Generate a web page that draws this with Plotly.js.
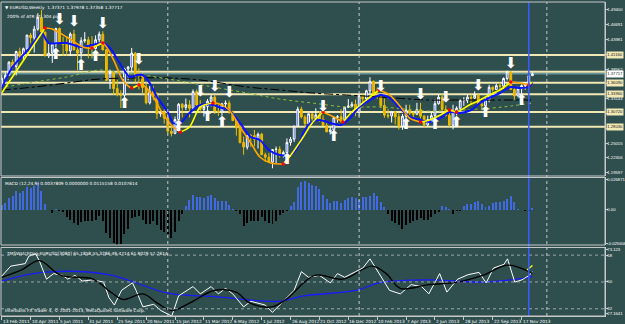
<!DOCTYPE html>
<html><head><meta charset="utf-8">
<script src="https://cdn.plot.ly/plotly-3.0.1.min.js"></script>
<style>html,body{margin:0;padding:0;background:#2f4f4f;overflow:hidden}#chart{width:625px;height:324px}</style>
</head><body><div id="chart"></div>
<script>
// ---- weekly OHLC, bar 0 = 13 Feb 2011 ----
const openP = [1.3545,1.3690,1.3745,1.3985,1.3905,1.4180,1.4090,1.4230,1.4480,1.4430,1.4590,1.4805,1.4535,1.4100,1.4150,1.4315,1.4600,1.4335,1.4310,1.4190,1.4500,1.4210,1.4150,1.4375,1.4395,1.4280,1.4235,1.4395,1.4495,1.4210,1.3650,1.3795,1.3500,1.3390,1.3380,1.3860,1.3895,1.4150,1.3760,1.3750,1.3520,1.3240,1.3450,1.3380,1.3040,1.3070,1.2960,1.2720,1.2680,1.2935,1.3215,1.3155,1.3205,1.3140,1.3445,1.3200,1.3120,1.3175,1.3270,1.3345,1.3090,1.3075,1.3220,1.3235,1.3075,1.2915,1.2780,1.2515,1.2430,1.2640,1.2640,1.2570,1.2665,1.2290,1.2245,1.2155,1.2385,1.2390,1.2290,1.2330,1.2515,1.2575,1.2815,1.3125,1.2980,1.2860,1.3040,1.2950,1.3020,1.2940,1.2830,1.2710,1.2745,1.2975,1.2985,1.2930,1.3160,1.3180,1.3215,1.3065,1.3365,1.3315,1.3460,1.3635,1.3365,1.3360,1.3190,1.3015,1.3000,1.3075,1.2985,1.2815,1.2995,1.3110,1.3050,1.3030,1.3115,1.2995,1.2835,1.2935,1.3005,1.3225,1.3345,1.3120,1.3010,1.2830,1.3060,1.3140,1.3280,1.3280,1.3345,1.3325,1.3380,1.3220,1.3185,1.3295,1.3525,1.3485,1.3555,1.3545,1.3685,1.3805,1.3485,1.3365,1.3500,1.3555,1.3590,1.37371];
const highP = [1.3760,1.3795,1.4000,1.4035,1.4195,1.4250,1.4250,1.4485,1.4520,1.4650,1.4880,1.4940,1.4540,1.4345,1.4330,1.4615,1.4620,1.4450,1.4450,1.4530,1.4580,1.4290,1.4440,1.4535,1.4450,1.4460,1.4475,1.4545,1.4550,1.4225,1.3850,1.3815,1.3665,1.3470,1.3880,1.3915,1.4245,1.4170,1.3875,1.3785,1.3615,1.3550,1.3550,1.3435,1.3125,1.3120,1.3080,1.2815,1.2990,1.3235,1.3235,1.3320,1.3290,1.3485,1.3485,1.3290,1.3210,1.3310,1.3385,1.3385,1.3210,1.3240,1.3285,1.3285,1.3095,1.2925,1.2825,1.2625,1.2645,1.2670,1.2745,1.2695,1.2690,1.2330,1.2325,1.2390,1.2440,1.2445,1.2365,1.2590,1.2615,1.2815,1.3170,1.3170,1.3015,1.3040,1.3045,1.3140,1.3090,1.3015,1.2880,1.2805,1.2985,1.3015,1.3125,1.3165,1.3310,1.3260,1.3300,1.3405,1.3405,1.3480,1.3710,1.3650,1.3520,1.3395,1.3320,1.3130,1.3090,1.3080,1.3050,1.3035,1.3205,1.3205,1.3075,1.3240,1.3240,1.3020,1.3005,1.3065,1.3305,1.3390,1.3415,1.3195,1.3080,1.3205,1.3175,1.3300,1.3345,1.3400,1.3395,1.3450,1.3415,1.3250,1.3325,1.3570,1.3545,1.3590,1.3615,1.3705,1.3830,1.3815,1.3525,1.3535,1.3580,1.3620,1.3740,1.37978];
const lowP = [1.3525,1.3620,1.3740,1.3860,1.3740,1.4060,1.4020,1.4150,1.4330,1.4160,1.4560,1.4510,1.4095,1.4060,1.3970,1.4255,1.4330,1.4100,1.4100,1.4100,1.4200,1.3835,1.4050,1.4340,1.4055,1.4050,1.4215,1.4305,1.4200,1.3645,1.3495,1.3385,1.3360,1.3145,1.3345,1.3655,1.3820,1.3610,1.3485,1.3420,1.3210,1.3210,1.3290,1.2945,1.2985,1.2860,1.2660,1.2625,1.2665,1.2925,1.2975,1.3105,1.2975,1.3110,1.3190,1.3050,1.2990,1.3110,1.3175,1.3035,1.3000,1.3005,1.3110,1.3040,1.2910,1.2640,1.2495,1.2290,1.2385,1.2435,1.2445,1.2405,1.2290,1.2160,1.2140,1.2042,1.2135,1.2240,1.2240,1.2320,1.2455,1.2525,1.2805,1.2955,1.2800,1.2800,1.2875,1.2950,1.2895,1.2815,1.2700,1.2660,1.2745,1.2880,1.2875,1.2925,1.3145,1.3155,1.2995,1.2995,1.3255,1.3255,1.3410,1.3355,1.3315,1.3145,1.2965,1.2955,1.2880,1.2845,1.2750,1.2745,1.2960,1.3020,1.2955,1.3020,1.2955,1.2795,1.2815,1.2880,1.2960,1.3205,1.3095,1.2990,1.2805,1.2755,1.3010,1.3100,1.3185,1.3235,1.3220,1.3310,1.3220,1.3105,1.3180,1.3250,1.3445,1.3475,1.3480,1.3500,1.3650,1.3485,1.3295,1.3365,1.3400,1.3480,1.3545,1.37358];
const closeP = [1.3690,1.3745,1.3985,1.3905,1.4180,1.4090,1.4230,1.4480,1.4430,1.4590,1.4805,1.4535,1.4100,1.4150,1.4315,1.4600,1.4335,1.4310,1.4190,1.4500,1.4210,1.4150,1.4375,1.4395,1.4280,1.4235,1.4395,1.4495,1.4210,1.3650,1.3795,1.3500,1.3390,1.3380,1.3860,1.3895,1.4150,1.3760,1.3750,1.3520,1.3240,1.3450,1.3380,1.3040,1.3070,1.2960,1.2720,1.2680,1.2935,1.3215,1.3155,1.3205,1.3140,1.3445,1.3200,1.3120,1.3175,1.3270,1.3345,1.3090,1.3075,1.3220,1.3235,1.3075,1.2915,1.2780,1.2515,1.2430,1.2640,1.2635,1.2570,1.2665,1.2290,1.2245,1.2155,1.2385,1.2390,1.2290,1.2330,1.2515,1.2575,1.2815,1.3125,1.2980,1.2860,1.3040,1.2950,1.3020,1.2940,1.2830,1.2710,1.2745,1.2975,1.2985,1.2930,1.3160,1.3180,1.3215,1.3065,1.3365,1.3315,1.3460,1.3635,1.3365,1.3360,1.3190,1.3015,1.3000,1.3075,1.2985,1.2815,1.2995,1.3110,1.3050,1.3030,1.3115,1.2995,1.2835,1.2935,1.3005,1.3225,1.3345,1.3120,1.3010,1.2830,1.3060,1.3140,1.3280,1.3285,1.3345,1.3325,1.3380,1.3220,1.3185,1.3295,1.3525,1.3485,1.3555,1.3545,1.3685,1.3805,1.3485,1.3365,1.3500,1.3555,1.3590,1.3737,1.37717];

// ---- main-panel indicator lines (bar index, price) ----
const maBlueX = [0,3,8,11,13,16,18,22,25,28,30,33,35.5,37.5,39,41,43,46,47.5,49.5,52,55,58.5,61,63,66,69,71.5,74,77,80,82,83.5,85.5,88,91,94,96.5,99,102,105,107.5,110,113,116,118.5,121.5,124,127,130,132.5,135,138,141,143.5,146,147];
const maBlueY = [1.3512,1.3896,1.4262,1.4519,1.4335,1.4335,1.4335,1.4262,1.4299,1.4335,1.4244,1.3933,1.3713,1.3750,1.3750,1.3603,1.3347,1.3072,1.2871,1.2871,1.3054,1.3200,1.3200,1.3145,1.3109,1.2871,1.2615,1.2560,1.2377,1.2285,1.2285,1.2432,1.2688,1.2871,1.2926,1.2871,1.2834,1.2962,1.3164,1.3292,1.3383,1.3329,1.3164,1.2981,1.2926,1.2889,1.2962,1.3072,1.3054,1.3109,1.3237,1.3329,1.3420,1.3530,1.3512,1.3530,1.3621];
const maTrendX = [0,12,14,18,22.5,25,28,31,33.5,36,38,39.5,42,44.5,47.5,49.5,52,55,58.5,60,63,66,69,71.5,74.5,78,80.5,83.5,86,89,92,94.5,97,101,104.5,107.5,110.5,113,116,118.5,121.5,124,126,129.5,132.5,135,138,141,143.5,146,147];
const maTrendY = [1.3420,1.4610,1.4592,1.4445,1.4262,1.4244,1.4335,1.4024,1.3658,1.3512,1.3567,1.3548,1.3347,1.3054,1.2798,1.2706,1.2798,1.3164,1.3237,1.3228,1.3109,1.2798,1.2505,1.2248,1.2139,1.2120,1.2322,1.2615,1.2871,1.3072,1.2981,1.2889,1.3072,1.3292,1.3475,1.3383,1.3164,1.2962,1.2889,1.2926,1.3017,1.3109,1.3072,1.3200,1.3292,1.3383,1.3475,1.3621,1.3603,1.3567,1.3621];
const maGreenX = [1,9,18,27,32,36.5,41,46,51,58.5,68,77,86,95.5,105,118,127,136,141,147];
const maGreenY = [1.3530,1.3621,1.3713,1.3841,1.3805,1.3768,1.3731,1.3676,1.3621,1.3530,1.3420,1.3310,1.3237,1.3164,1.3164,1.3091,1.3109,1.3145,1.3182,1.3237];
const maBlackX = [0,9,18,27,36.5,46,55,68,77,86,95.5,105,118,127,147];
const maBlackY = [1.3475,1.3530,1.3603,1.3676,1.3695,1.3695,1.3658,1.3530,1.3475,1.3420,1.3383,1.3347,1.3292,1.3292,1.3292];

// fractal arrows (bar indices)
const downArrowIdx = [16,20,28,38,55,59,63,89,105,116,123,132,141];
const upArrowIdx = [15,22,26,34,49,57,61,79,92,112,120,126,134,144];

// levels
const priceTicks = [1.49400,1.46691,1.43981,1.41272,1.38562,1.35853,1.33144,1.30434,1.27725,1.25015,1.22306,1.19597];
const srLevels = [1.41160,1.38100,1.36090,1.33960,1.30720,1.28030];
const srLabeled = [true,false,true,true,true,true];
const bidPrice = 1.37717;

// MACD histogram
const macdHist = [0.00385,0.00592,0.00977,0.01184,0.01569,0.01421,0.01569,0.01865,0.01806,0.01954,0.02250,0.01569,0.00533,0.0003,-0.00266,0.00089,-0.00059,-0.00207,-0.00592,-0.00799,-0.01095,-0.01243,-0.01036,-0.00888,-0.00888,-0.00888,-0.00799,-0.00503,-0.00947,-0.01894,-0.02279,-0.02723,-0.02900,-0.02812,-0.01983,-0.01539,-0.00651,-0.00592,-0.00503,-0.00799,-0.01184,-0.01184,-0.00947,-0.01243,-0.01687,-0.01835,-0.01983,-0.02279,-0.01835,-0.00947,-0.00355,0.00296,0.00829,0.01273,0.01066,0.01066,0.00977,0.01125,0.01273,0.00977,0.00770,0.00770,0.00740,0.00385,0.00089,-0.00059,-0.00355,-0.01332,-0.01095,-0.00947,-0.00888,-0.00888,-0.00592,-0.00947,-0.01095,-0.01184,-0.00947,-0.00414,-0.00266,-0.00118,0.00296,0.00681,0.01865,0.02309,0.02368,0.02250,0.02102,0.02013,0.01717,0.01273,0.00888,0.00592,0.00740,0.00740,0.00592,0.00829,0.00977,0.01066,0.00977,0.00829,0.01066,0.01066,0.01125,0.01421,0.01125,0.00681,0.00237,-0.00296,-0.00947,-0.01095,-0.01243,-0.01539,-0.01243,-0.01095,-0.00947,-0.00799,-0.00651,-0.00799,-0.00799,-0.00592,-0.00355,-0.00148,0.00296,0.00237,0.00089,-0.00296,-0.00118,-0.00059,0.00296,0.00474,0.00533,0.00681,0.00770,0.00533,0.00237,0.00296,0.00592,0.00681,0.00681,0.00770,0.00888,0.01125,0.00681,0.00089,-0.0003,-0.00059,-0.00059,0.00148];
const macdTickVals = [0.0250,0,-0.0275];
const macdTickText = ['0.026871','0.00','-0.025606'];

// oscillator panel
const oscWhiteX = [0,2.5,6.5,7.5,9.4,10.4,12.4,14.4,16.9,18.3,20.3,22.3,25.3,28.2,29.7,31.2,33.2,34.7,36.2,37.2,39.1,42.1,44.1,47.1,49,53,55,58,60,62,64,67,69,73,75,78,81,83,85,88,91,93,95,98,100,102,104.5,107.4,110.4,113.4,116.3,118.3,121.3,123.3,126.3,129.2,132.2,134.2,136.2,139.1,140.1,142.1,144.1,146.1,147];
const oscWhiteY = [53.9,60.6,62.3,67.3,68.8,64.3,51.9,55.6,54.4,51.9,54.4,50.6,51.4,49.9,39.5,34.5,44.4,46.9,49.4,44.4,33.3,35.0,30.8,27.1,40.7,46.9,42,46.9,42,45.7,42,33.3,37,34.5,29.6,37,44.4,56.9,53.1,54.4,49.4,55.6,53.1,56.9,59.3,65.5,55.6,44.4,42,48.2,46.9,42,55.6,43.2,51.9,54.9,56.4,49.4,59.3,61.8,65.5,49.9,51.4,54.4,56.9];
const oscBlackX = [0,5.5,10.4,16.4,25.3,30.2,33.7,39.1,43.1,47.1,52,59,64.9,68.8,74.8,78.7,86.7,94.6,102.5,106.5,110.4,118.3,126.3,133.2,140.1,146.1,147];
const oscBlackY = [53.1,58.1,64.3,54.4,51.9,43.2,38.2,42,35.8,30.8,35.8,44.4,43.2,35.8,33.3,38.2,54.4,51.9,60.6,55.6,45.7,48.2,49.9,54.4,61.3,56.9,55.6];
const oscBlueX = [0,11.4,29.2,46.1,59,76.8,83.7,98.5,104.5,118.3,133,146,147];
const oscBlueY = [50.6,56.4,55.1,42.5,40.2,37.0,40.7,44.5,49.4,51.4,49.9,53.1,53.9];
const oscYellowX = [145.5,147];
const oscYellowY = [58,61];
const oscLevels = [68,50,32];
const oscTickVals = [71.5,68,50,32,28.8];
const oscTickText = ['73.123','68','50','32','27.1641'];

// time axis
const dateTicks = [0,8,16,24,32,40,48,56,64,72,80,88,96,104,112,120,128,136,144];
const dateLabels = ['13 Feb 2011','10 Apr 2011','5 Jun 2011','31 Jul 2011','25 Sep 2011','20 Nov 2011','15 Jan 2012','11 Mar 2012','6 May 2012','1 Jul 2012','26 Aug 2012','21 Oct 2012','16 Dec 2012','10 Feb 2013','7 Apr 2013','2 Jun 2013','28 Jul 2013','22 Sep 2013','17 Nov 2013'];
const separatorIdx = [46,99,151];
const markerIdx = [146];

// texts
const titleText = '\u25BC EURUSD,Weekly  1.37371 1.37978 1.37358 1.37717';
const atrText = '200% of ATR (7) 304 pips';
const macdText = 'MACD (12,24,9) 0.0037809 0.0000000 0.0115158 0.0107614';
const oscText = 'TMSWatchDog-EURUSD[3080] 65.1858 55.3286 49.4714 61.9029 57.2614';
const footText = 'Interbank FX Trader 4, \u00A9 2001-2013, MetaQuotes Software Corp.';

// ---------------- build ----------------
const FONT = 'DejaVu Sans';
const AXFONT = 'Liberation Sans';
const FS = 4.3;
const AFS = 4.2;
const barIdx = openP.map((_, i) => i);

function splitDir(xs, ys) {
  const up = [], dn = [], tx = [], ty = [];
  const n = ys.length;
  for (let k = 0; k < n; k++) {
    const rPrev = k > 0 && ys[k] >= ys[k-1];
    const fPrev = k > 0 && ys[k] < ys[k-1];
    const rNext = k < n-1 && ys[k+1] >= ys[k];
    const fNext = k < n-1 && ys[k+1] < ys[k];
    up.push(rPrev || rNext ? ys[k] : null);
    dn.push(fPrev || fNext ? ys[k] : null);
    if ((rPrev && fNext) || (fPrev && rNext)) { tx.push(xs[k]); ty.push(ys[k]); }
  }
  return {up, dn, tx, ty};
}
const trend = splitDir(maTrendX, maTrendY);

const traces = [
  {type:'candlestick', x:barIdx, open:openP, high:highP, low:lowP, close:closeP, xaxis:'x', yaxis:'y',
   increasing:{line:{color:'#ffffff', width:1}, fillcolor:'#3a56f0'},
   decreasing:{line:{color:'#e8c000', width:1}, fillcolor:'#ffa500'},
   whiskerwidth:0, hoverinfo:'skip'},
  {type:'scatter', mode:'lines', x:maBlackX, y:maBlackY, line:{color:'#000000', width:1, dash:'dashdot', shape:'spline'}, hoverinfo:'skip'},
  {type:'scatter', mode:'lines', x:maGreenX, y:maGreenY, line:{color:'#8fbc3a', width:1, dash:'dot', shape:'spline'}, hoverinfo:'skip'},
  {type:'scatter', mode:'lines', x:maBlueX, y:maBlueY, line:{color:'#0a14ff', width:2, shape:'spline', smoothing:0.8}, hoverinfo:'skip'},
  {type:'scatter', mode:'lines', x:maTrendX, y:trend.dn, line:{color:'#ffa500', width:1.6, shape:'spline', smoothing:0.8}, connectgaps:false, hoverinfo:'skip'},
  {type:'scatter', mode:'lines', x:maTrendX, y:trend.up, line:{color:'#ffff00', width:1.6, shape:'spline', smoothing:0.8}, connectgaps:false, hoverinfo:'skip'},
  {type:'scatter', mode:'markers', x:trend.tx, y:trend.ty, marker:{color:'#ff0000', size:3.5}, hoverinfo:'skip'},
  {type:'scatter', mode:'text', x:downArrowIdx, y:downArrowIdx.map(i => highP[i]), text:downArrowIdx.map(() => '\u2B07'),
   textposition:'top center', textfont:{family:FONT, size:15, color:'#ffffff'}, cliponaxis:false, hoverinfo:'skip'},
  {type:'scatter', mode:'text', x:upArrowIdx, y:upArrowIdx.map(i => lowP[i]), text:upArrowIdx.map(() => '\u2B06'),
   textposition:'bottom center', textfont:{family:FONT, size:15, color:'#ffffff'}, cliponaxis:false, hoverinfo:'skip'},
  {type:'bar', x:barIdx, y:macdHist, xaxis:'x', yaxis:'y2', width:0.55,
   marker:{color:macdHist.map(v => v >= 0 ? '#4169e1' : '#000000'), line:{width:0}}, hoverinfo:'skip'},
  {type:'scatter', mode:'lines', x:oscBlueX, y:oscBlueY, xaxis:'x', yaxis:'y3', line:{color:'#1a1aff', width:1.3, shape:'spline'}, hoverinfo:'skip'},
  {type:'scatter', mode:'lines', x:oscWhiteX, y:oscWhiteY, xaxis:'x', yaxis:'y3', line:{color:'#ffffff', width:1}, hoverinfo:'skip'},
  {type:'scatter', mode:'lines', x:oscBlackX, y:oscBlackY, xaxis:'x', yaxis:'y3', line:{color:'#000000', width:1.4, shape:'spline'}, hoverinfo:'skip'},
  {type:'scatter', mode:'lines', x:oscYellowX, y:oscYellowY, xaxis:'x', yaxis:'y3', line:{color:'#ffff00', width:1.4}, hoverinfo:'skip'}
];

const mainDom = [0.4459, 1], macdDom = [0.2261, 0.4411], oscDom = [0, 0.2182];
const FRAME = '#c8c8c8';
const shapes = [];
srLevels.forEach(v => shapes.push({type:'line', xref:'paper', yref:'y', x0:0, x1:1, y0:v, y1:v, line:{color:'#f2e8b4', width:2}, layer:'below'}));
shapes.push({type:'line', xref:'paper', yref:'y', x0:0, x1:1, y0:bidPrice, y1:bidPrice, line:{color:'#7fb8c0', width:1}, layer:'below'});
oscLevels.forEach(v => shapes.push({type:'line', xref:'paper', yref:'y3', x0:0, x1:1, y0:v, y1:v, line:{color:'#9aa8a8', width:1, dash:'dot'}}));
separatorIdx.forEach(v => shapes.push({type:'line', xref:'x', yref:'paper', x0:v, x1:v, y0:0, y1:1, line:{color:'#c8c8c8', width:1, dash:'dot'}}));
markerIdx.forEach(v => shapes.push({type:'line', xref:'x', yref:'paper', x0:v, x1:v, y0:0, y1:1, line:{color:'#3a5cff', width:1.5}}));
[mainDom, macdDom, oscDom].forEach(d => shapes.push({type:'rect', xref:'paper', yref:'paper', x0:0, x1:1, y0:d[0], y1:d[1], line:{color:FRAME, width:1}, fillcolor:'rgba(0,0,0,0)'}));

const annotations = [];
const ann = (o) => annotations.push(Object.assign({showarrow:false, font:{family:FONT, size:FS, color:'#ffffff'}}, o));
ann({xref:'paper', yref:'paper', x:0, y:1, xanchor:'left', yanchor:'top', xshift:2, yshift:-1, text:titleText});
ann({xref:'paper', yref:'paper', x:0, y:1, xanchor:'left', yanchor:'top', xshift:4, yshift:-10, text:atrText});
ann({xref:'paper', yref:'paper', x:0, y:macdDom[1], xanchor:'left', yanchor:'top', xshift:2, yshift:-1.5, text:macdText});
ann({xref:'paper', yref:'paper', x:0, y:oscDom[1], xanchor:'left', yanchor:'top', xshift:3, yshift:-1.5, text:oscText});
ann({xref:'paper', yref:'paper', x:0, y:0, xanchor:'left', yanchor:'bottom', xshift:2, yshift:1, text:footText});
dateTicks.forEach((t, k) => ann({xref:'x', yref:'paper', x:t, y:0, xanchor:'left', yanchor:'top', xshift:-1, yshift:-1, text:dateLabels[k]}));
srLevels.forEach((v, k) => { if (srLabeled[k]) ann({xref:'paper', yref:'y', x:1, y:v, xanchor:'left', yanchor:'middle', xshift:1, text:v.toFixed(5), bgcolor:'#f2e8b4', borderpad:0.3, font:{family:AXFONT, size:AFS, color:'#1a1a1a'}}); });
ann({xref:'paper', yref:'y', x:1, y:bidPrice, xanchor:'left', yanchor:'middle', xshift:1, text:bidPrice.toFixed(5), bgcolor:'#ffffff', borderpad:0.3, font:{family:AXFONT, size:AFS, color:'#1a1a1a'}});

const yCommon = {side:'right', anchor:'x', showgrid:false, zeroline:false, showline:true, linecolor:FRAME, linewidth:1,
  ticks:'outside', ticklen:1.5, tickcolor:FRAME, ticklabelstandoff:-1, tickfont:{family:AXFONT, size:AFS, color:'#ffffff'}, fixedrange:true};

const layout = {
  width:625, height:324, margin:{l:1, r:20, t:2, b:8},
  paper_bgcolor:'#2f4f4f', plot_bgcolor:'#2f4f4f', showlegend:false, bargap:0,
  font:{family:FONT, size:FS, color:'#ffffff'},
  xaxis:{range:[-0.2, 167.1], anchor:'y3', showgrid:false, zeroline:false, showline:true, linecolor:FRAME, linewidth:1,
    ticks:'outside', ticklen:3, tickcolor:FRAME, tickvals:dateTicks, showticklabels:false, rangeslider:{visible:false}, fixedrange:true},
  yaxis:Object.assign({}, yCommon, {domain:mainDom, range:[1.1901, 1.5086], tickvals:priceTicks, ticktext:priceTicks.map(v => v.toFixed(5))}),
  yaxis2:Object.assign({}, yCommon, {domain:macdDom, range:[-0.0290, 0.0269], tickvals:macdTickVals, ticktext:macdTickText}),
  yaxis3:Object.assign({}, yCommon, {domain:oscDom, range:[27.1641, 73.123], tickvals:oscTickVals, ticktext:oscTickText}),
  shapes:shapes, annotations:annotations
};

Plotly.newPlot('chart', traces, layout, {staticPlot:true, displayModeBar:false});
</script></body></html>
